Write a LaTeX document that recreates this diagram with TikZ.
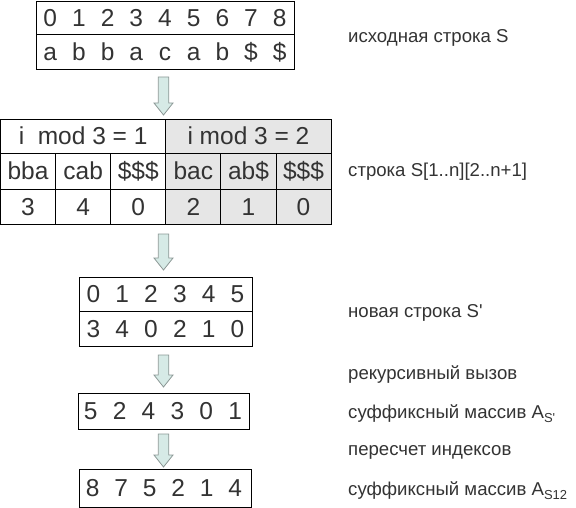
\documentclass[tikz,border=0pt]{standalone}
\usepackage{fontspec}
\setmainfont{Liberation Sans}
\usetikzlibrary{positioning}
\definecolor{InkGray}{RGB}{51,51,51}
\definecolor{CellGray}{RGB}{230,230,230}
\definecolor{ArrowMint}{RGB}{214,234,230}
\definecolor{ArrowEdge}{RGB}{140,152,150}
\newcommand{\subidx}[1]{\raisebox{-4.5pt}{\fontsize{13}{13}\selectfont #1}}

\begin{document}
\begin{tikzpicture}[x=1pt, y=-1pt, text=InkGray, font=\fontsize{24.5}{27}\selectfont,
	frame/.style={draw=black, line width=0.9pt, inner sep=0pt},
	cell/.style={frame, minimum width=55.1pt, minimum height=#1, text height=17.5pt, text depth=0pt},
	sym/.style={inner sep=0pt, text height=17.5pt, text depth=0pt},
	lbl/.style={anchor=base west, inner sep=0pt, font=\fontsize{18.6}{20}\selectfont},
	pics/downarrow/.style={code={
		\draw[draw=ArrowEdge, fill=ArrowMint, line width=0.8pt, line join=miter]
			(-5.25,0) -- (5.25,0) -- (5.25,#1-12) -- (9.5,#1-12) -- (0,#1)
			-- (-9.5,#1-12) -- (-5.25,#1-12) -- cycle;}}]
	\useasboundingbox (0,0) rectangle (576,508);
	\node[frame, minimum width=258pt, minimum height=33pt] (srcidx) at (165,17.5) {};
	\node[frame, minimum width=258pt, minimum height=35pt] (srcchr) at (165,51.5) {};
	\foreach \c [count=\i from 0] in {a,b,b,a,c,a,b,\$,\$}{
		\node[sym] (si\i) at (50.3+28.67*\i,17.5) {\i};
		\node[sym] (sc\i) at (50.3+28.67*\i,51.5) {\c};
	}
	\node[lbl] (lsrc) at (348,43) {исходная строка S};
	\pic (arr1) at (163.5,77) {downarrow=38};
	\node[cell=34pt, minimum width=165.3pt] (hdr1) at (83.15,136) {i\ \ mod 3 = 1};
	\node[cell=34pt, minimum width=165.3pt, fill=CellGray] (hdr2) at (248.45,136) {i mod 3 = 2};
	\foreach \t/\v/\f [count=\i from 0] in {bba/3/white, cab/4/white, \$\$\$/0/white,
		bac/2/CellGray, ab\$/1/CellGray, \$\$\$/0/CellGray}{
		\node[cell=36pt, fill=\f] (tri\i) at (28.05+55.1*\i,171) {\t};
		\node[cell=35pt, fill=\f] (rank\i) at (28.05+55.1*\i,206.5) {\v};
	}
	\node[lbl] (ltri) at (348,177) {строка S[1..n][2..n+1]};
	\pic (arr2) at (163.5,234) {downarrow=36};
	\node[frame, minimum width=173pt, minimum height=34pt] (newidx) at (165.5,294) {};
	\node[frame, minimum width=173pt, minimum height=35pt] (newstr) at (165.5,328.5) {};
	\foreach \v [count=\i from 0] in {3,4,0,2,1,0}{
		\node[sym] (ni\i) at (93.4+28.83*\i,294) {\i};
		\node[sym] (nv\i) at (93.4+28.83*\i,328.5) {\v};
	}
	\node[lbl] (lnew) at (348,317) {новая строка S\textquotesingle};
	\pic (arr3) at (163.5,355) {downarrow=32};
	\node[lbl] (lrec) at (348,379) {рекурсивный вызов};
	\node[frame, minimum width=171pt, minimum height=36pt] (sufnew) at (163.5,411) {};
	\foreach \v [count=\i from 0] in {5,2,4,3,0,1}{
		\node[sym] (sn\i) at (90.7+28.9*\i,411) {\v};
	}
	\node[lbl] (lsufnew) at (348,418) {суффиксный массив A\subidx{S\textquotesingle}};
	\pic (arr4) at (163.5,434) {downarrow=33};
	\node[lbl] (lre) at (348,455) {пересчет индексов};
	\node[frame, minimum width=172pt, minimum height=38pt] (suf12) at (165,488) {};
	\foreach \v [count=\i from 0] in {8,7,5,2,1,4}{
		\node[sym] (sd\i) at (92.7+28.5*\i,488) {\v};
	}
	\node[lbl] (lsuf12) at (348,495) {суффиксный массив A\subidx{S12}};
\end{tikzpicture}
\end{document}
